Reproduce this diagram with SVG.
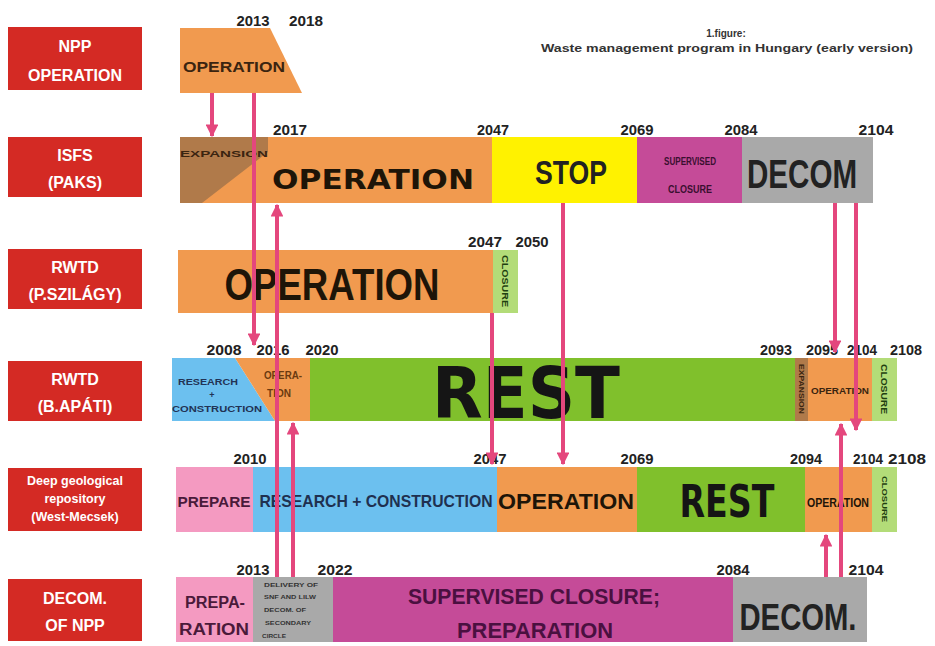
<svg xmlns="http://www.w3.org/2000/svg" width="935" height="646" viewBox="0 0 935 646">
<defs>
<marker id="ah" viewBox="0 0 10 10" refX="9" refY="5" markerWidth="3.2" markerHeight="3.2" orient="auto" markerUnits="strokeWidth">
<path d="M0,0 L10,5 L0,10 z" fill="#e4477d"/>
</marker>
<style>
.lbl{fill:#d42a24}
.lt{font-family:"Liberation Sans",Arial,sans-serif;font-weight:bold;fill:#ffffff;text-anchor:middle}
.yr{font-family:"Liberation Sans",Arial,sans-serif;font-weight:bold;font-size:14px;fill:#222;text-anchor:middle}
.t{font-family:"Liberation Sans",Arial,sans-serif;font-weight:bold;text-anchor:middle;lengthAdjust:spacingAndGlyphs}
.h{font-family:"DejaVu Sans","Liberation Sans",sans-serif;font-weight:bold;text-anchor:middle}
.or{fill:#f19a4f}
.ye{fill:#fff200}
.mg{fill:#c54b98}
.gr{fill:#a9a9a9}
.gn{fill:#80c02c}
.lg{fill:#b3dc78}
.bl{fill:#6cc0ef}
.pk{fill:#f49ac1}
.tn{fill:#b07a4a}
.con{stroke:#e4477d;stroke-width:4;fill:none;marker-end:url(#ah)}
</style>
</defs>
<rect width="935" height="646" fill="#ffffff"/>

<g id="title">
<text class="t" x="726" y="37" font-size="10" fill="#333">1.figure:</text>
<text class="t" x="727" y="52" font-size="11" fill="#333" textLength="372" lengthAdjust="spacingAndGlyphs">Waste management program in Hungary (early version)</text>
</g>

<g id="label-npp"><rect class="lbl" x="8" y="27" width="134" height="63"/>
<text class="lt" x="75" y="52" font-size="16">NPP</text><text class="lt" x="75" y="81" font-size="16">OPERATION</text></g>
<g id="label-isfs"><rect class="lbl" x="8" y="137" width="134" height="60"/>
<text class="lt" x="75" y="161" font-size="16">ISFS</text><text class="lt" x="75" y="188" font-size="16">(PAKS)</text></g>
<g id="label-rwtd-psz"><rect class="lbl" x="8" y="249" width="134" height="60"/>
<text class="lt" x="75" y="273" font-size="16">RWTD</text><text class="lt" x="75" y="300" font-size="16">(P.SZILÁGY)</text></g>
<g id="label-rwtd-ba"><rect class="lbl" x="8" y="361" width="134" height="60"/>
<text class="lt" x="75" y="385" font-size="16">RWTD</text><text class="lt" x="75" y="412" font-size="16">(B.APÁTI)</text></g>
<g id="label-deep"><rect class="lbl" x="8" y="468" width="134" height="63"/>
<text class="lt" x="75" y="485" font-size="12.5">Deep geological</text><text class="lt" x="75" y="503" font-size="12.5">repository</text><text class="lt" x="75" y="521" font-size="12.5">(West-Mecsek)</text></g>
<g id="label-decom"><rect class="lbl" x="8" y="579" width="134" height="62"/>
<text class="lt" x="75" y="604" font-size="16">DECOM.</text><text class="lt" x="75" y="631" font-size="16">OF NPP</text></g>

<g id="row-npp">
<polygon class="or" points="180,28 270,28 302,93 180,93"/>
<text class="t" x="234" y="72" font-size="14" fill="#3a2410" textLength="102" lengthAdjust="spacingAndGlyphs">OPERATION</text>
<text class="yr" x="253" y="26" textLength="33" lengthAdjust="spacingAndGlyphs">2013</text>
<text class="yr" x="306" y="26" textLength="34" lengthAdjust="spacingAndGlyphs">2018</text>
</g>

<g id="row-isfs">
<rect class="or" x="180" y="137" width="312" height="66"/>
<polygon class="tn" points="180,137 268,137 268,152 202,203 180,203"/>
<rect class="ye" x="492" y="137" width="145" height="66"/>
<rect class="mg" x="637" y="137" width="105" height="66"/>
<rect class="gr" x="742" y="137" width="131" height="66"/>
<text class="t" x="224" y="157" font-size="9" fill="#3a2410" textLength="88" lengthAdjust="spacingAndGlyphs">EXPANSION</text>
<text class="h" x="373" y="189" font-size="27" fill="#1e1508" textLength="202" lengthAdjust="spacingAndGlyphs">OPERATION</text>
<text class="t" x="571" y="184" font-size="33" fill="#222" textLength="72" lengthAdjust="spacingAndGlyphs">STOP</text>
<text class="t" x="690" y="165" font-size="10" fill="#3a0f30" textLength="52" lengthAdjust="spacingAndGlyphs">SUPERVISED</text>
<text class="t" x="690" y="193" font-size="10" fill="#3a0f30" textLength="44" lengthAdjust="spacingAndGlyphs">CLOSURE</text>
<text class="t" x="802" y="188" font-size="40" fill="#222" textLength="110" lengthAdjust="spacingAndGlyphs">DECOM</text>
<text class="yr" x="290" y="135" textLength="34" lengthAdjust="spacingAndGlyphs">2017</text>
<text class="yr" x="493" y="135" textLength="32" lengthAdjust="spacingAndGlyphs">2047</text>
<text class="yr" x="637" y="135" textLength="33" lengthAdjust="spacingAndGlyphs">2069</text>
<text class="yr" x="741" y="135" textLength="33" lengthAdjust="spacingAndGlyphs">2084</text>
<text class="yr" x="876" y="135" textLength="35" lengthAdjust="spacingAndGlyphs">2104</text>
</g>

<g id="row-rwtd-psz">
<rect class="or" x="178" y="250" width="315" height="63"/>
<rect class="lg" x="493" y="250" width="25" height="63"/>
<text class="t" x="332" y="300" font-size="44" fill="#1e1508" textLength="215" lengthAdjust="spacingAndGlyphs">OPERATION</text>
<text class="t" x="0" y="0" font-size="9" fill="#1f4010" transform="translate(502,281) rotate(90)" textLength="52" lengthAdjust="spacingAndGlyphs">CLOSURE</text>
<text class="yr" x="485" y="247" textLength="34" lengthAdjust="spacingAndGlyphs">2047</text>
<text class="yr" x="532" y="247" textLength="33" lengthAdjust="spacingAndGlyphs">2050</text>
</g>

<g id="row-rwtd-ba">
<polygon class="bl" points="172,358 235,358 275,421 172,421"/>
<polygon class="or" points="235,358 310,358 310,421 275,421"/>
<rect class="gn" x="310" y="358" width="485" height="63"/>
<rect class="tn" x="795" y="358" width="13" height="63"/>
<rect class="or" x="808" y="358" width="64" height="63"/>
<rect class="lg" x="872" y="358" width="25" height="63"/>
<text class="t" x="208" y="385" font-size="9" fill="#223355" textLength="60" lengthAdjust="spacingAndGlyphs">RESEARCH</text>
<text class="t" x="212" y="398" font-size="9" fill="#223355">+</text>
<text class="t" x="217" y="412" font-size="9" fill="#223355" textLength="90" lengthAdjust="spacingAndGlyphs">CONSTRUCTION</text>
<text class="t" x="283" y="379" font-size="10" fill="#6b3a10" textLength="38" lengthAdjust="spacingAndGlyphs">OPERA-</text>
<text class="t" x="279" y="397" font-size="10" fill="#6b3a10" textLength="24" lengthAdjust="spacingAndGlyphs">TION</text>
<text class="h" x="526" y="418" font-size="72" fill="#151515" textLength="188" lengthAdjust="spacingAndGlyphs">REST</text>
<text class="t" x="0" y="0" font-size="7" fill="#3a2410" transform="translate(799,389) rotate(90)" textLength="50" lengthAdjust="spacingAndGlyphs">EXPANSION</text>
<text class="t" x="840" y="394" font-size="9" fill="#3a2410" textLength="58" lengthAdjust="spacingAndGlyphs">OPERATION</text>
<text class="t" x="0" y="0" font-size="9" fill="#1f4010" transform="translate(881,389) rotate(90)" textLength="50" lengthAdjust="spacingAndGlyphs">CLOSURE</text>
<text class="yr" x="224" y="355" textLength="35" lengthAdjust="spacingAndGlyphs">2008</text>
<text class="yr" x="273" y="355" textLength="33" lengthAdjust="spacingAndGlyphs">2016</text>
<text class="yr" x="322" y="355" textLength="33" lengthAdjust="spacingAndGlyphs">2020</text>
<text class="yr" x="776" y="355" textLength="32" lengthAdjust="spacingAndGlyphs">2093</text>
<text class="yr" x="822" y="355" textLength="32" lengthAdjust="spacingAndGlyphs">2095</text>
<text class="yr" x="862" y="355" textLength="30" lengthAdjust="spacingAndGlyphs">2104</text>
<text class="yr" x="906" y="355" textLength="32" lengthAdjust="spacingAndGlyphs">2108</text>
</g>

<g id="row-deep">
<rect class="pk" x="176" y="467" width="77" height="65"/>
<rect class="bl" x="253" y="467" width="244" height="65"/>
<rect class="or" x="497" y="467" width="140" height="65"/>
<rect class="gn" x="637" y="467" width="168" height="65"/>
<rect class="or" x="805" y="467" width="67" height="65"/>
<rect class="lg" x="872" y="467" width="25" height="65"/>
<text class="t" x="214" y="507" font-size="15" fill="#4a1a3a" textLength="73" lengthAdjust="spacingAndGlyphs">PREPARE</text>
<text class="t" x="376" y="507" font-size="17" fill="#1f3050" textLength="233" lengthAdjust="spacingAndGlyphs">RESEARCH + CONSTRUCTION</text>
<text class="t" x="566" y="509" font-size="22" fill="#1e1508" textLength="136" lengthAdjust="spacingAndGlyphs">OPERATION</text>
<text class="h" x="727" y="517" font-size="45" fill="#151515" textLength="95" lengthAdjust="spacingAndGlyphs">REST</text>
<text class="t" x="838" y="507" font-size="13" fill="#1e1508" textLength="62" lengthAdjust="spacingAndGlyphs">OPERATION</text>
<text class="t" x="0" y="0" font-size="8" fill="#1f4010" transform="translate(882,499) rotate(90)" textLength="46" lengthAdjust="spacingAndGlyphs">CLOSURE</text>
<text class="yr" x="250" y="464" textLength="33" lengthAdjust="spacingAndGlyphs">2010</text>
<text class="yr" x="490" y="464" textLength="33" lengthAdjust="spacingAndGlyphs">2047</text>
<text class="yr" x="637" y="464" textLength="33" lengthAdjust="spacingAndGlyphs">2069</text>
<text class="yr" x="806" y="464" textLength="32" lengthAdjust="spacingAndGlyphs">2094</text>
<text class="yr" x="868" y="464" textLength="30" lengthAdjust="spacingAndGlyphs">2104</text>
<text class="yr" x="907" y="464" textLength="38" lengthAdjust="spacingAndGlyphs">2108</text>
</g>

<g id="row-decom">
<rect class="pk" x="176" y="577" width="77" height="65"/>
<rect class="gr" x="253" y="577" width="80" height="65"/>
<rect class="mg" x="333" y="577" width="400" height="65"/>
<rect class="gr" x="733" y="577" width="134" height="65"/>
<text class="t" x="215" y="608" font-size="16" fill="#4a1a3a" textLength="60" lengthAdjust="spacingAndGlyphs">PREPA-</text>
<text class="t" x="214" y="635" font-size="16" fill="#4a1a3a" textLength="70" lengthAdjust="spacingAndGlyphs">RATION</text>
<text class="t" x="291" y="587" font-size="6" fill="#333" textLength="54" lengthAdjust="spacingAndGlyphs">DELIVERY OF</text>
<text class="t" x="290" y="599" font-size="6" fill="#333" textLength="52" lengthAdjust="spacingAndGlyphs">SNF AND LILW</text>
<text class="t" x="285" y="612" font-size="6" fill="#333" textLength="42" lengthAdjust="spacingAndGlyphs">DECOM. OF</text>
<text class="t" x="288" y="625" font-size="6" fill="#333" textLength="46" lengthAdjust="spacingAndGlyphs">SECONDARY</text>
<text class="t" x="274" y="638" font-size="6" fill="#333" textLength="24" lengthAdjust="spacingAndGlyphs">CIRCLE</text>
<text class="t" x="534" y="604" font-size="22" fill="#4a1040" textLength="252" lengthAdjust="spacingAndGlyphs">SUPERVISED CLOSURE;</text>
<text class="t" x="535" y="638" font-size="22" fill="#4a1040" textLength="156" lengthAdjust="spacingAndGlyphs">PREPARATION</text>
<text class="t" x="798" y="630" font-size="37" fill="#222" textLength="117" lengthAdjust="spacingAndGlyphs">DECOM.</text>
<text class="yr" x="253" y="575" textLength="33" lengthAdjust="spacingAndGlyphs">2013</text>
<text class="yr" x="335" y="575" textLength="35" lengthAdjust="spacingAndGlyphs">2022</text>
<text class="yr" x="733" y="575" textLength="33" lengthAdjust="spacingAndGlyphs">2084</text>
<text class="yr" x="866" y="575" textLength="35" lengthAdjust="spacingAndGlyphs">2104</text>
</g>

<g id="connectors">
<line class="con" x1="212" y1="93" x2="212" y2="136"/>
<line class="con" x1="254" y1="93" x2="254" y2="345"/>
<line class="con" x1="277" y1="577" x2="277" y2="205"/>
<line class="con" x1="293" y1="577" x2="293" y2="423"/>
<line class="con" x1="492" y1="313" x2="492" y2="464"/>
<line class="con" x1="563" y1="203" x2="563" y2="464"/>
<line class="con" x1="835" y1="203" x2="835" y2="352"/>
<line class="con" x1="856" y1="203" x2="856" y2="430"/>
<line class="con" x1="826" y1="577" x2="826" y2="535"/>
<line class="con" x1="841" y1="577" x2="841" y2="424"/>
</g>
</svg>
